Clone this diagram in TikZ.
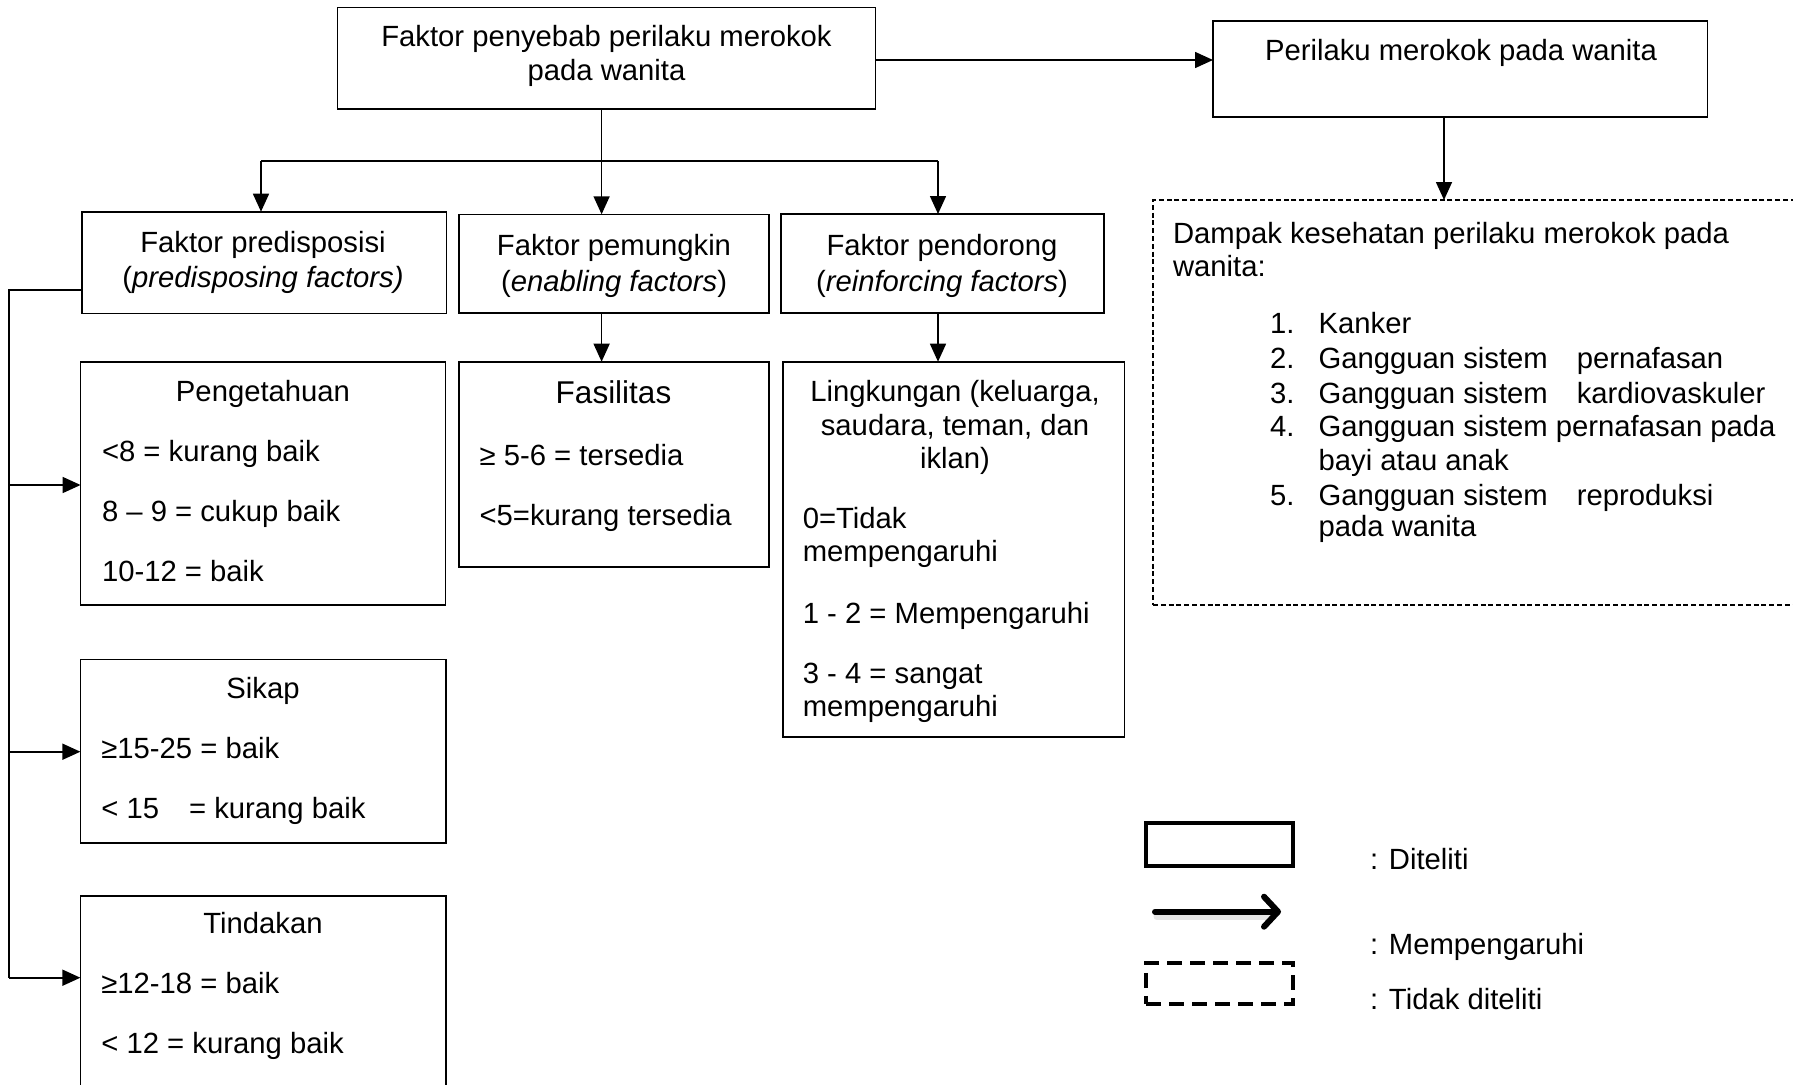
\documentclass[tikz,border=0pt]{standalone}
\usepackage{fontspec}
\setmainfont{Liberation Sans}
\usetikzlibrary{arrows.meta}
\begin{document}
\begin{tikzpicture}[x=1pt,y=-1pt,
  box/.style={draw, line width=1.6pt, inner sep=0pt, outer sep=0pt, anchor=north west},
  dbox/.style={box, dash pattern=on 5pt off 2.8pt},
  txt/.style={inner sep=0pt, outer sep=0pt, font=\fontsize{29.25}{33.6}\selectfont},
  tc/.style={txt, anchor=base},
  tl/.style={txt, anchor=base west},
  conn/.style={line width=1.6pt},
  arr/.style={conn, -{Triangle[length=18pt,width=16pt]}},
]
\fill[white] (0,0) rectangle (1793,1084);
\clip (0,0) rectangle (1793,1084);

% boxes
\node[box, minimum width=537.9pt, minimum height=101.4pt] (A) at (337.5,7.3) {};
\node[box, minimum width=494.6pt, minimum height=96pt] (B) at (1213,20.7) {};
\node[box, minimum width=364.6pt, minimum height=101.6pt] (C) at (82,211.7) {};
\node[box, minimum width=310pt, minimum height=98.7pt] (D) at (459,214.3) {};
\node[box, minimum width=323.2pt, minimum height=99pt] (E) at (780.7,214) {};
\node[box, minimum width=365pt, minimum height=243.3pt] (F) at (80.6,361.7) {};
\node[box, minimum width=310pt, minimum height=205pt] (G) at (459,361.7) {};
\node[box, minimum width=341.3pt, minimum height=375pt] (H) at (783,361.7) {};
\node[box, minimum width=365.4pt, minimum height=183.4pt] (I) at (80.4,659.3) {};
\node[box, minimum width=365.4pt, minimum height=204pt] (J) at (80.4,896) {};
\node[dbox, minimum width=657pt, minimum height=405pt] (K) at (1153,200) {};

% texts
\node[tc] (a1) at (606.5,46.7) {Faktor penyebab perilaku merokok};
\node[tc] (a2) at (606.5,80) {pada wanita};
\node[tc] (b1) at (1461,60) {Perilaku merokok pada wanita};
\node[tc] (c1) at (263,252.3) {Faktor predisposisi};
\node[tc] (c2) at (263,287.7) {(\textit{predisposing factors)}};
\node[tc] (d1) at (614,255) {Faktor pemungkin};
\node[tc] (d2) at (614,291) {(\textit{enabling factors})};
\node[tc] (e1) at (942,255) {Faktor pendorong};
\node[tc] (e2) at (942,291) {(\textit{reinforcing factors})};

\node[tc] (f0) at (263,401.7) {Pengetahuan};
\node[tl] (f1) at (102,461.7) {<8 = kurang baik};
\node[tl] (f2) at (102,521.7) {8 – 9 = cukup baik};
\node[tl] (f3) at (102,581.7) {10-12 = baik};

\node[tc, font=\fontsize{31.5}{36}\selectfont] (g0) at (613.5,403) {Fasilitas};
\node[tl] (g1) at (479.6,465) {≥ 5-6 = tersedia};
\node[tl] (g2) at (479.6,525) {<5=kurang tersedia};

\node[tc] (h0) at (955,401.7) {Lingkungan (keluarga,};
\node[tc] (h1) at (955,435) {saudara, teman, dan};
\node[tc] (h2) at (955,468.3) {iklan)};
\node[tl] (h3) at (802.8,528.3) {0=Tidak};
\node[tl] (h4) at (802.8,561.7) {mempengaruhi};
\node[tl] (h5) at (802.8,623) {1 - 2 = Mempengaruhi};
\node[tl] (h6) at (802.8,683) {3 - 4 = sangat};
\node[tl] (h7) at (802.8,716.7) {mempengaruhi};

\node[tc] (i0) at (263,698.3) {Sikap};
\node[tl] (i1) at (101.4,758.3) {≥15-25 = baik};
\node[tl] (i2) at (101.4,818.3) {< 15\hspace{30pt}= kurang baik};

\node[tc] (j0t) at (263,933.3) {Tindakan};
\node[tl] (j1) at (101.4,993.3) {≥12-18 = baik};
\node[tl] (j2) at (101.4,1053.3) {< 12 = kurang baik};

\node[tl] (k0) at (1173,243.3) {Dampak kesehatan perilaku merokok pada};
\node[tl] (k1) at (1173,276.7) {wanita:};
\node[tl] (n1) at (1270,333.3) {1.};
\node[tl] (l1) at (1318.6,333.3) {Kanker};
\node[tl] (n2) at (1270,368.3) {2.};
\node[tl] (l2) at (1318.6,368.3) {Gangguan sistem\hspace{29pt}pernafasan};
\node[tl] (n3) at (1270,403.3) {3.};
\node[tl] (l3) at (1318.6,403.3) {Gangguan sistem\hspace{29pt}kardiovaskuler};
\node[tl] (n4) at (1270,436.7) {4.};
\node[tl] (l4) at (1318.6,436.7) {Gangguan sistem pernafasan pada};
\node[tl] (l4b) at (1318.6,470) {bayi atau anak};
\node[tl] (n5) at (1270,505) {5.};
\node[tl] (l5) at (1318.6,505) {Gangguan sistem\hspace{29pt}reproduksi};
\node[tl] (l5b) at (1318.6,536.7) {pada wanita};

% connectors
\coordinate (ab) at (875.4,60);
\draw[arr] (ab) -- (ab -| B.west);
\coordinate (jM) at (601.6,161);
\coordinate (jL) at (261,161);
\coordinate (jR) at (938,161);
\draw[conn] (jM |- A.south) -- (jM);
\draw[line width=2.4pt] (jL) -- (jR);
\draw[conn] (jR) -- ([yshift=-3pt]jR);
\draw[arr] (jL) -- (jL |- C.north);
\draw[arr] (jM) -- (jM |- D.north);
\draw[arr] (jR) -- (jR |- E.north);
\coordinate (dg) at (601.6,313);
\draw[arr] (dg) -- (dg |- G.north);
\coordinate (eh) at (938,313);
\draw[arr] (eh) -- (eh |- H.north);
\coordinate (bk) at (1444,116.7);
\draw[arr] (bk) -- (bk |- K.north);

\coordinate (lT) at (9,290);
\coordinate (lB) at (9,977.7);
\coordinate (lF) at (9,485);
\coordinate (lI) at (9,751.7);
\draw[line width=2pt] (lT -| C.west) -- (lT) -- (lB);
\draw[arr] (lF) -- (lF -| F.west);
\draw[arr] (lI) -- (lI -| I.west);
\draw[arr] (lB) -- (lB -| J.west);

% legend
\node[box, line width=4pt, minimum width=146.6pt, minimum height=43.3pt] (L1) at (1146.4,822.7) {};
\node[box, line width=4pt, dash pattern=on 15pt off 8pt, minimum width=146.6pt, minimum height=41.6pt] (L3) at (1146.4,962.7) {};
\coordinate (la1) at (1155,911.7);
\coordinate (la2) at (1281,911.7);
\draw[line width=7pt, black!10, line cap=round] ([shift={(2,5)}]la1) -- ([shift={(-8,5)}]la2);
\draw[line width=6pt, line cap=round, -{Straight Barb[round, length=14pt, width=30pt]}] (la1) -- (la2);
\node[tl] (lt1) at (1370,869.3) {: Diteliti};
\node[tl] (lt2) at (1370,954) {: Mempengaruhi};
\node[tl] (lt3) at (1370,1009) {: Tidak diteliti};
\end{tikzpicture}
\end{document}
